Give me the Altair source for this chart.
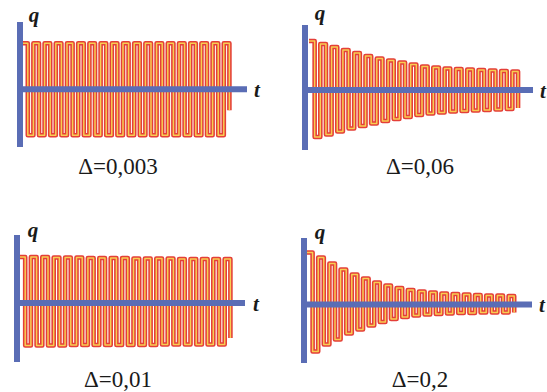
import altair as alt
import pandas as pd

# Damped oscillations q(t) for four values of the logarithmic decrement.
labels = ["Δ=0,003", "Δ=0,06", "Δ=0,01", "Δ=0,2"]

# Heights of successive maxima (above the t axis) and minima (below it)
peaks_1 = [0.92, 0.92, 0.92, 0.92, 0.92, 0.92, 0.92, 0.92, 0.92, 0.92,
           0.92, 0.92, 0.92, 0.92, 0.92, 0.92, 0.92, 0.92, 0.92]
troughs_1 = [0.92, 0.92, 0.92, 0.92, 0.92, 0.92, 0.92, 0.92, 0.92,
             0.92, 0.92, 0.92, 0.92, 0.92, 0.92, 0.92, 0.92, 0.92]
end_1 = -0.42

peaks_2 = [0.98, 0.92, 0.86, 0.80, 0.74, 0.68, 0.63, 0.59, 0.55, 0.51,
           0.47, 0.45, 0.43, 0.42, 0.41, 0.40, 0.39, 0.38, 0.37]
troughs_2 = [0.94, 0.89, 0.83, 0.77, 0.72, 0.67, 0.62, 0.58, 0.54,
             0.50, 0.47, 0.45, 0.43, 0.42, 0.41, 0.40, 0.39, 0.38]
end_2 = -0.36

peaks_3 = [0.92, 0.92, 0.92, 0.91, 0.91, 0.91, 0.90, 0.90, 0.90, 0.90,
           0.89, 0.89, 0.89, 0.89, 0.88, 0.88, 0.88, 0.88, 0.88]
troughs_3 = [0.85, 0.85, 0.85, 0.85, 0.84, 0.84, 0.84, 0.84, 0.84,
             0.84, 0.84, 0.84, 0.83, 0.83, 0.83, 0.83, 0.83, 0.83]
end_3 = -0.70

peaks_4 = [1.04, 0.94, 0.82, 0.70, 0.60, 0.52, 0.44, 0.38, 0.33, 0.29,
           0.26, 0.24, 0.22, 0.21, 0.20, 0.19, 0.18, 0.18, 0.17]
troughs_4 = [0.94, 0.80, 0.70, 0.58, 0.50, 0.42, 0.35, 0.29, 0.25,
             0.22, 0.20, 0.19, 0.18, 0.17, 0.17, 0.16, 0.16, 0.16]
end_4 = -0.16

series = [
    (peaks_1, troughs_1, end_1),
    (peaks_2, troughs_2, end_2),
    (peaks_3, troughs_3, end_3),
    (peaks_4, troughs_4, end_4),
]

W, H = 547, 392
PX_PER_Q = 50.0

BLUE = "#5a6db5"
RED = "#e43f38"
YELLOW = "#f8cd52"
SERIF = "Liberation Serif, DejaVu Serif, serif"

# Placement of each panel on the page (pixels)
layout = [
    dict(x0=22.2, per=11.2, axis_x=20, axis_y=89.3, v_top=22, v_bot=147,
         h_end=247, q_pos=(34, 16), t_pos=(257, 91), lab_pos=(118, 167)),
    dict(x0=309, per=11.3, axis_x=305, axis_y=90, v_top=25, v_bot=150,
         h_end=533, q_pos=(320, 14), t_pos=(543, 92), lab_pos=(420, 167)),
    dict(x0=19.5, per=11.4, axis_x=17, axis_y=303, v_top=235, v_bot=362,
         h_end=245, q_pos=(33, 231), t_pos=(256, 305), lab_pos=(118, 380)),
    dict(x0=307, per=11.2, axis_x=304, axis_y=304.5, v_top=238, v_bot=363,
         h_end=532, q_pos=(320, 233), t_pos=(542, 306), lab_pos=(420, 380)),
]


def curve_frame(peaks, troughs, q_end):
    # each extremum holds for half a period, then the charge swings across
    rows = [(float(k), v) for k, v in enumerate(peaks)]
    rows += [(k + 0.5, -v) for k, v in enumerate(troughs)]
    rows.append((len(peaks) - 0.5, q_end))
    rows.sort()
    return pd.DataFrame(rows, columns=["t", "q"])


one = pd.DataFrame({"z": [0]})
panels = []
for (peaks, troughs, q_end), lay, label in zip(series, layout, labels):
    df = curve_frame(peaks, troughs, q_end)
    lo = -lay["x0"] / lay["per"]
    hi = (W - lay["x0"]) / lay["per"]
    top = lay["axis_y"] / PX_PER_Q
    bot = (lay["axis_y"] - H) / PX_PER_Q
    xs = alt.Scale(domain=[lo, hi], nice=False, zero=False)
    ys = alt.Scale(domain=[bot, top], nice=False, zero=False)

    enc = dict(x=alt.X("t:Q", scale=xs, axis=None),
               y=alt.Y("q:Q", scale=ys, axis=None))
    red = alt.Chart(df).mark_line(color=RED, strokeWidth=4.6,
                                  strokeJoin="round",
                                  interpolate="step-after").encode(**enc)
    yellow = alt.Chart(df).mark_line(color=YELLOW, strokeWidth=1.5,
                                     strokeJoin="round",
                                     interpolate="step-after").encode(**enc)

    h_axis = alt.Chart(one).mark_rule(color=BLUE, strokeWidth=6).encode(
        x=alt.value(lay["axis_x"]), x2=alt.value(lay["h_end"]),
        y=alt.datum(0))
    v_axis = alt.Chart(one).mark_rule(color=BLUE, strokeWidth=6).encode(
        x=alt.value(lay["axis_x"]),
        y=alt.value(lay["v_top"]), y2=alt.value(lay["v_bot"]))

    q_txt = alt.Chart(one).mark_text(
        text="q", font=SERIF, fontSize=21, fontStyle="italic",
        fontWeight="bold", color="#1a1a1a", baseline="middle",
        align="center").encode(x=alt.value(lay["q_pos"][0]),
                               y=alt.value(lay["q_pos"][1]))
    t_txt = alt.Chart(one).mark_text(
        text="t", font=SERIF, fontSize=21, fontStyle="italic",
        fontWeight="bold", color="#1a1a1a", baseline="middle",
        align="center").encode(x=alt.value(lay["t_pos"][0]),
                               y=alt.value(lay["t_pos"][1]))
    lab_txt = alt.Chart(one).mark_text(
        text=label, font=SERIF, fontSize=23, color="#1a1a1a",
        baseline="middle", align="center").encode(
        x=alt.value(lay["lab_pos"][0]), y=alt.value(lay["lab_pos"][1]))

    panels.append(alt.layer(red, yellow, h_axis, v_axis, q_txt, t_txt, lab_txt))

chart = alt.layer(*panels).resolve_scale(
    x="independent", y="independent"
).properties(
    width=W, height=H, padding=0,
    autosize=alt.AutoSizeParams(type="none"),
    background="white",
).configure_view(stroke=None)

chart.save("out.html", embed_options={"renderer": "svg", "actions": False})
